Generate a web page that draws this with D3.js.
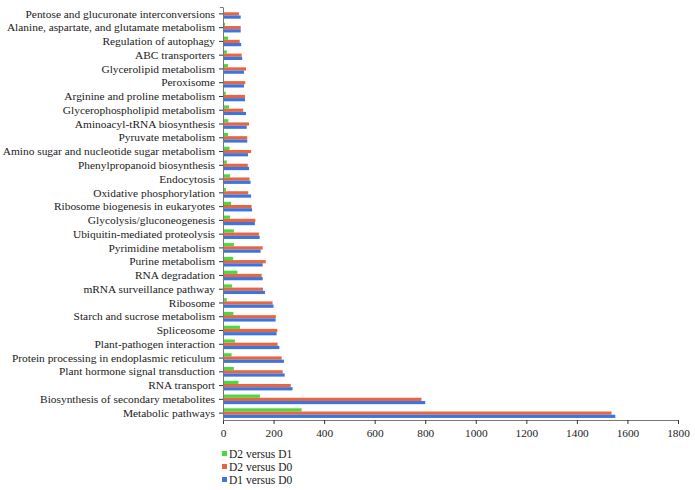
<!DOCTYPE html>
<html>
<head>
<meta charset="utf-8">
<script src="https://cdn.jsdelivr.net/npm/d3@7"></script>
<style>
  html, body { margin: 0; padding: 0; background: #ffffff; }
  svg { display: block; }
  text { font-family: "Liberation Serif", "Times New Roman", serif; fill: #1a1a1a; }
</style>
</head>
<body>
<div id="chart"></div>
<script>
const categories = [
  "Pentose and glucuronate interconversions",
  "Alanine, aspartate, and glutamate metabolism",
  "Regulation of autophagy",
  "ABC transporters",
  "Glycerolipid metabolism",
  "Peroxisome",
  "Arginine and proline metabolism",
  "Glycerophospholipid metabolism",
  "Aminoacyl-tRNA biosynthesis",
  "Pyruvate metabolism",
  "Amino sugar and nucleotide sugar metabolism",
  "Phenylpropanoid biosynthesis",
  "Endocytosis",
  "Oxidative phosphorylation",
  "Ribosome biogenesis in eukaryotes",
  "Glycolysis/gluconeogenesis",
  "Ubiquitin-mediated proteolysis",
  "Pyrimidine metabolism",
  "Purine metabolism",
  "RNA degradation",
  "mRNA surveillance pathway",
  "Ribosome",
  "Starch and sucrose metabolism",
  "Spliceosome",
  "Plant-pathogen interaction",
  "Protein processing in endoplasmic reticulum",
  "Plant hormone signal transduction",
  "RNA transport",
  "Biosynthesis of secondary metabolites",
  "Metabolic pathways"
];
const seriesNames = ["D2 versus D1", "D2 versus D0", "D1 versus D0"];
const d2vsD1 = [2, 8, 20, 15, 20, 4, 11, 24, 21, 20, 26, 15, 28, 12, 32, 28, 43, 43, 40, 57, 36, 15, 41, 67, 47, 34, 43, 61, 146, 311];
const d2vsD0 = [63, 70, 66, 74, 91, 88, 87, 80, 103, 96, 111, 98, 105, 100, 113, 128, 142, 157, 169, 153, 158, 196, 209, 215, 216, 232, 236, 268, 785, 1537];
const d1vsD0 = [70, 70, 72, 76, 83, 83, 87, 91, 94, 96, 99, 103, 109, 111, 115, 126, 145, 149, 157, 157, 166, 200, 208, 212, 223, 241, 244, 275, 800, 1552];
const xTicks = [0, 200, 400, 600, 800, 1000, 1200, 1400, 1600, 1800];
const colors = ["#45DB3F", "#E8653D", "#3C75DF"];

const seriesValues = [d2vsD1, d2vsD0, d1vsD0];

const W = 695, H = 490;
const margin = { left: 223, right: 17, top: 7, bottom: 70 };
const plotRight = W - margin.right;
const plotBottom = H - margin.bottom;
const fontStack = '"Liberation Serif", "Times New Roman", serif';

const svg = d3.select("#chart").append("svg")
  .attr("width", W).attr("height", H);

const x = d3.scaleLinear().domain([0, 1800]).range([margin.left, plotRight]);
const y = d3.scaleBand().domain(categories).range([margin.top, plotBottom]).paddingInner(0.3).paddingOuter(0.15);
const ySub = d3.scaleBand().domain(seriesNames).range([0, y.bandwidth()]);

// bars
const groups = svg.append("g").selectAll("g")
  .data(categories)
  .join("g")
  .attr("transform", d => `translate(0,${y(d)})`);

groups.selectAll("rect")
  .data((c, i) => seriesNames.map((s, j) => ({ s, v: seriesValues[j][i], j })))
  .join("rect")
  .attr("x", x(0))
  .attr("y", d => ySub(d.s))
  .attr("width", d => x(d.v) - x(0))
  .attr("height", ySub.bandwidth())
  .attr("fill", d => colors[d.j]);

// x axis
const xAxis = d3.axisBottom(x).tickValues(xTicks).tickSize(4).tickSizeOuter(0).tickFormat(d3.format("d"));
const gx = svg.append("g").attr("transform", `translate(0,${plotBottom})`).call(xAxis);
gx.select(".domain").attr("stroke", "#777").attr("stroke-width", 1);
gx.selectAll(".tick line").attr("stroke", "#333");
gx.selectAll(".tick text").attr("font-size", 11.3).attr("dy", "0.85em")
  .style("font-family", fontStack).attr("fill", "#1a1a1a");

// y axis
const yAxis = d3.axisLeft(y).tickSize(4).tickSizeOuter(0).tickPadding(4);
const gy = svg.append("g").attr("transform", `translate(${margin.left},0)`).call(yAxis);
gy.select(".domain").attr("stroke", "#777").attr("stroke-width", 1);
gy.selectAll(".tick line").attr("stroke", "#333");
gy.selectAll(".tick text").attr("font-size", 11.4)
  .style("font-family", fontStack).attr("fill", "#1a1a1a");
// top cap
gy.append("line").attr("x1", -3).attr("x2", 0).attr("y1", margin.top + 0.5).attr("y2", margin.top + 0.5).attr("stroke", "#777");

// legend
const legend = svg.append("g").attr("transform", `translate(222,449)`);
seriesNames.forEach((s, i) => {
  const g = legend.append("g").attr("transform", `translate(0,${i * 13})`);
  g.append("rect").attr("x", 0).attr("y", 2).attr("width", 5).attr("height", 5).attr("fill", colors[i]);
  g.append("text").attr("x", 7).attr("y", 9).attr("font-size", 11.5).text(s);
});
</script>
</body>
</html>
